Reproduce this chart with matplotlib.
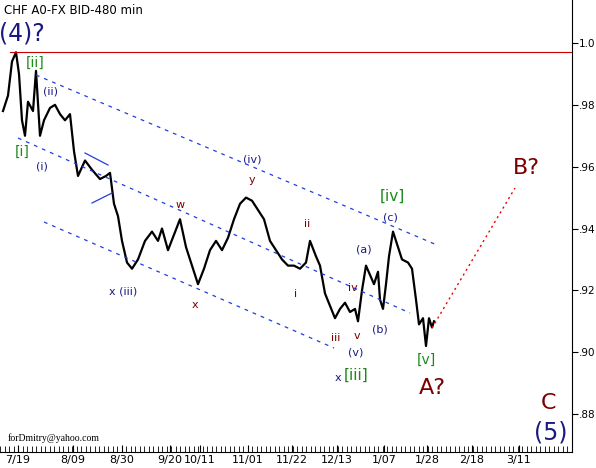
import matplotlib
matplotlib.use("Agg")
import matplotlib.pyplot as plt
from matplotlib.ticker import MultipleLocator

# price path (bar index, price)
bar_x = [3, 8, 12, 16, 19, 22, 25, 28, 33, 36, 40, 44, 50, 55, 60, 65, 70, 74, 78, 85,
         92, 100, 106, 110, 114, 118, 122, 127, 132, 138, 145, 152, 158, 162, 168, 174,
         180, 186, 193, 198, 204, 210, 216, 222, 228, 234, 240, 246, 252, 258, 264, 270,
         276, 282, 288, 294, 300, 306, 310, 316, 320, 325, 330, 335, 340, 345, 350, 355,
         358, 362, 366, 370, 374, 378, 380, 383, 386, 389, 393, 397, 402, 408, 412, 416,
         419, 423, 426, 429, 432, 434]
price = [0.978, 0.983, 0.994, 0.997, 0.990, 0.975, 0.970, 0.981, 0.978, 0.991, 0.970,
         0.975, 0.979, 0.980, 0.977, 0.975, 0.977, 0.965, 0.957, 0.962, 0.959, 0.956,
         0.957, 0.958, 0.948, 0.944, 0.936, 0.929, 0.927, 0.930, 0.936, 0.939, 0.936,
         0.940, 0.933, 0.938, 0.943, 0.934, 0.927, 0.922, 0.927, 0.933, 0.936, 0.933,
         0.937, 0.943, 0.948, 0.950, 0.949, 0.946, 0.943, 0.936, 0.933, 0.930, 0.928,
         0.928, 0.927, 0.929, 0.936, 0.931, 0.928, 0.919, 0.915, 0.911, 0.914, 0.916,
         0.913, 0.914, 0.910, 0.920, 0.928, 0.925, 0.922, 0.926, 0.917, 0.914, 0.922,
         0.931, 0.939, 0.935, 0.930, 0.929, 0.927, 0.917, 0.909, 0.911, 0.902, 0.911,
         0.908, 0.910]

tick_pos = [18, 73, 122, 170, 200, 248, 292, 337, 384, 427, 472, 519]
tick_labels = ["7/19", "8/09", "8/30", "9/20", "10/11", "11/01", "11/22", "12/13",
               "1/07", "1/28", "2/18", "3/11"]
y_ticks = [0.88, 0.90, 0.92, 0.94, 0.96, 0.98, 1.00]
y_labels = [".88", ".90", ".92", ".94", ".96", ".98", "1.0"]


def p(ypix):
    # convert screen row to price
    return 1.0 - (ypix - 43) / 3092.0


fig = plt.figure(figsize=(5.96, 4.68), dpi=100)
ax = fig.add_axes([0, 16 / 468, 572 / 596, 452 / 468])
ax.set_xlim(0, 572)
ax.set_ylim(p(452), p(0))

ax.plot(bar_x, price, color="black", lw=1.6)

# top line at wave (4)
ax.plot([10, 572], [p(52), p(52)], color="#cc0000", lw=0.8)

# channels
blue = "#1f3fdd"
for (x0, y0), (x1, y1) in [((36, 75), (437, 245)), ((18, 138), (410, 313)),
                           ((44, 222), (334, 348)), ((85, 153), (108, 165)),
                           ((92, 203), (112, 193))]:
    ls = "-" if x1 - x0 < 40 else (0, (3, 4))
    ax.plot([x0, x1], [p(y0), p(y1)], color=blue, lw=0.9, ls=ls)
ax.plot([432, 515], [p(328), p(188)], color="#ee0000", lw=1.0, ls=(0, (1.5, 2.5)))

navy = "#1a1a80"
green = "#1a8a1a"
dred = "#7a0000"
labels = [
    ("(4)?", 22, 34, navy, 17), ("[ii]", 35, 63, green, 10), ("[i]", 22, 152, green, 10),
    ("(ii)", 50, 92, navy, 8), ("(i)", 42, 167, navy, 8), ("(iv)", 252, 160, navy, 8),
    ("y", 252, 180, dred, 8), ("w", 180, 205, dred, 8), ("x (iii)", 123, 292, navy, 8),
    ("x", 195, 305, dred, 8), ("ii", 307, 224, dred, 8), ("i", 296, 294, dred, 8),
    ("iii", 336, 338, dred, 8), ("v", 357, 336, dred, 8), ("iv", 353, 288, dred, 8),
    ("(a)", 364, 250, navy, 8), ("(b)", 380, 330, navy, 8), ("(c)", 390, 218, navy, 8),
    ("(v)", 356, 353, navy, 8), ("x", 338, 378, navy, 8), ("[iii]", 356, 375, green, 11),
    ("[iv]", 392, 196, green, 11), ("[v]", 426, 360, green, 10), ("A?", 432, 388, dred, 16),
    ("B?", 526, 168, dred, 16), ("C", 549, 403, dred, 16), ("(5)", 551, 433, navy, 17),
]
for txt, xp, yp, col, fs in labels:
    ax.text(xp, p(yp), txt, color=col, fontsize=fs, ha="center", va="center")

ax.text(4, p(10), "CHF A0-FX BID-480 min", fontsize=8.5, va="center")
ax.text(8, p(438), "forDmitry@yahoo.com", fontsize=7, family="Liberation Serif", va="center")

ax.yaxis.tick_right()
ax.set_yticks(y_ticks)
ax.set_yticklabels(y_labels, fontsize=7.5)
ax.set_xticks(tick_pos)
ax.set_xticklabels(tick_labels, fontsize=8)
ax.xaxis.set_minor_locator(MultipleLocator(4.5))
ax.tick_params(axis="x", which="minor", length=4, direction="in")
ax.tick_params(axis="x", which="major", length=5, direction="in", pad=2)
ax.tick_params(axis="y", length=4, pad=1)
for s in ["top", "left"]:
    ax.spines[s].set_visible(False)

fig.savefig("out.png", dpi=100)
